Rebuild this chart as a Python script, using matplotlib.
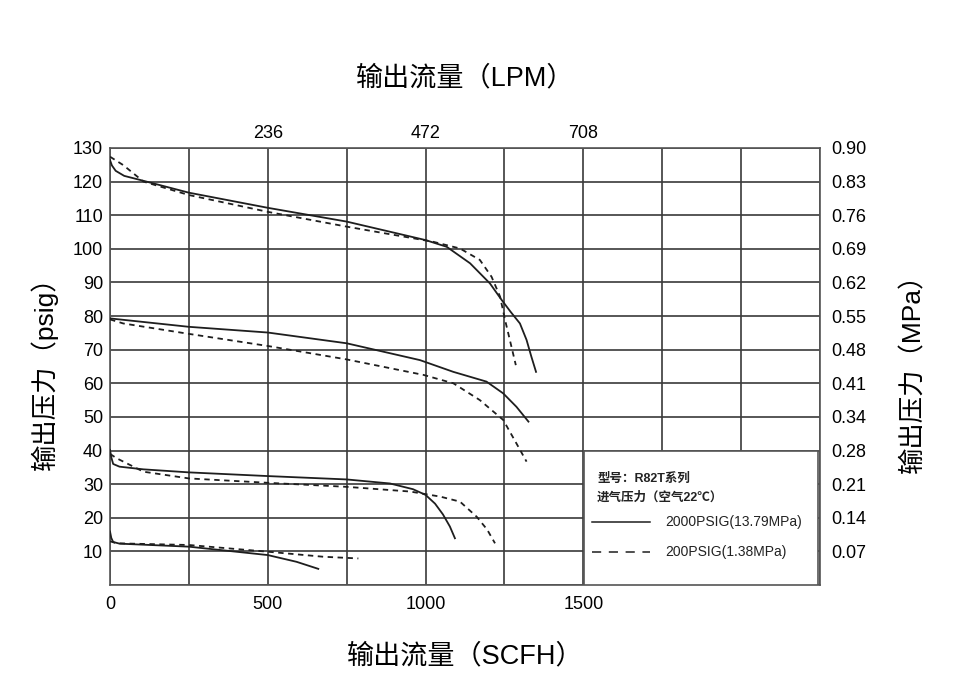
import matplotlib.pyplot as plt
from matplotlib.patches import Rectangle
from matplotlib.lines import Line2D

plt.rcParams['font.family'] = ['Liberation Sans', 'Noto Sans CJK SC', 'DejaVu Sans']
MIX = ['Liberation Sans', 'Noto Sans CJK SC', 'DejaVu Sans']

# flow (SCFH) vs outlet pressure (psig)
# 2000 PSIG inlet (solid)
hi_x1 = [0, 6, 18, 45, 95, 250, 500, 750, 1000, 1067, 1141, 1204, 1241, 1270,
         1299, 1320, 1335, 1350]
hi_y1 = [126.4, 124.8, 123.2, 121.7, 120.5, 116.7, 112.2, 108.1, 102.6, 100.6,
         95.7, 89.7, 84.8, 81.2, 77.8, 72.9, 68.0, 63.4]
hi_x2 = [0, 250, 500, 750, 982, 1088, 1193, 1246, 1288, 1326]
hi_y2 = [79.3, 76.8, 75.1, 71.9, 66.9, 63.4, 60.5, 57.0, 53.0, 48.6]
hi_x3 = [0, 4, 10, 30, 106, 250, 500, 750, 887, 960, 1000, 1030, 1055, 1077, 1093]
hi_y3 = [40.2, 38.0, 36.0, 35.2, 34.4, 33.5, 32.4, 31.4, 30.2, 28.5, 26.8,
         24.2, 21.0, 17.4, 13.9]
hi_x4 = [0, 4, 10, 30, 250, 500, 591, 660]
hi_y4 = [15.9, 14.0, 12.8, 12.3, 11.4, 8.9, 6.9, 4.8]

# 200 PSIG inlet (dashed)
lo_x1 = [0, 42, 106, 250, 500, 750, 1024, 1109, 1172, 1209, 1236, 1252, 1267, 1286]
lo_y1 = [127.4, 124.9, 120.0, 116.0, 111.0, 106.6, 102.1, 100.1, 96.7, 91.7,
         85.8, 78.8, 72.9, 65.4]
lo_x2 = [0, 42, 250, 500, 750, 993, 1088, 1172, 1246, 1288, 1320]
lo_y2 = [79.0, 77.8, 74.7, 71.1, 67.1, 62.5, 60.0, 55.0, 49.1, 42.1, 36.7]
lo_x3 = [0, 21, 106, 250, 500, 750, 951, 1046, 1109, 1162, 1195, 1220]
lo_y3 = [39.0, 37.7, 33.7, 31.7, 30.4, 29.2, 27.8, 26.3, 24.8, 20.3, 16.5, 12.4]
lo_x4 = [0, 21, 250, 500, 676, 787]
lo_y4 = [13.0, 12.4, 11.9, 9.9, 8.4, 7.9]

bottom_ticks = [0, 500, 1000, 1500]
top_labels = ['236', '472', '708']
psig_ticks = [10, 20, 30, 40, 50, 60, 70, 80, 90, 100, 110, 120, 130]
mpa_labels = ['0.07', '0.14', '0.21', '0.28', '0.34', '0.41', '0.48',
              '0.55', '0.62', '0.69', '0.76', '0.83', '0.90']

fig = plt.figure(figsize=(9.6, 6.98), dpi=100)
ax = fig.add_axes([0.1146, 0.1619, 0.7396, 0.6261])

line_c = '#1e1e1e'
for xs, ys in [(hi_x1, hi_y1), (hi_x2, hi_y2), (hi_x3, hi_y3), (hi_x4, hi_y4)]:
    ax.plot(xs, ys, color=line_c, lw=1.3, zorder=4)
for xs, ys in [(lo_x1, lo_y1), (lo_x2, lo_y2), (lo_x3, lo_y3), (lo_x4, lo_y4)]:
    ax.plot(xs, ys, color=line_c, lw=1.3, ls=(0, (3, 2.5)), zorder=4)

ax.set_xlim(0, 2250)
ax.set_ylim(0, 130)
ax.set_xticks(range(0, 2251, 250), minor=True)
ax.set_yticks(range(0, 131, 10), minor=True)
ax.set_xticks(bottom_ticks)
ax.set_yticks(psig_ticks)
ax.grid(True, which='both', color='#3a3a3a', lw=1.2, zorder=1)
ax.tick_params(which='both', length=0, labelsize=13)
ax.tick_params(axis='x', pad=8)
ax.tick_params(axis='y', pad=5)
for s in ax.spines.values():
    s.set_color('#555555')
    s.set_linewidth(1.2)

ax_top = ax.twiny()
ax_top.set_xlim(ax.get_xlim())
ax_top.set_xticks(bottom_ticks[1:])
ax_top.set_xticklabels(top_labels)
ax_top.tick_params(length=0, labelsize=13, pad=4)

ax_r = ax.twinx()
ax_r.set_ylim(ax.get_ylim())
ax_r.set_yticks(psig_ticks)
ax_r.set_yticklabels(mpa_labels)
ax_r.tick_params(length=0, labelsize=13, pad=8)
for a in (ax_top, ax_r):
    for s in a.spines.values():
        s.set_visible(False)

ax.set_xlabel('输出流量（SCFH）', family=MIX, fontsize=19.5, labelpad=22)
ax_top.set_xlabel('输出流量（LPM）', family=MIX, fontsize=19.5, labelpad=29)
ax.set_ylabel('输出压力（psig）', family=MIX, fontsize=19, labelpad=11)
ax_r.set_ylabel('输出压力（MPa）', family=MIX, fontsize=19, labelpad=24)

# legend box
ax.add_patch(Rectangle((0.668, 0.0), 0.329, 0.307, transform=ax.transAxes,
                       facecolor='white', edgecolor='#555555', lw=1.2, zorder=5))
ax.text(0.686, 0.243, '型号：R82T系列', transform=ax.transAxes, family=MIX,
        fontsize=9, fontweight='bold', va='center', zorder=6, color='#222222')
ax.text(0.686, 0.199, '进气压力（空气22℃）', transform=ax.transAxes, family=MIX,
        fontsize=9, fontweight='bold', va='center', zorder=6, color='#222222')
ax.add_line(Line2D([0.679, 0.76], [0.144, 0.144], transform=ax.transAxes,
                   color=line_c, lw=1.1, zorder=6))
ax.add_line(Line2D([0.679, 0.76], [0.0755, 0.0755], transform=ax.transAxes,
                   color=line_c, lw=1.1, ls=(0, (6, 5)), zorder=6))
ax.text(0.782, 0.144, '2000PSIG(13.79MPa)', transform=ax.transAxes,
        fontsize=10, va='center', zorder=6, color='#222222')
ax.text(0.782, 0.0755, '200PSIG(1.38MPa)', transform=ax.transAxes,
        fontsize=10, va='center', zorder=6, color='#222222')

fig.savefig('out.png', dpi=100)
